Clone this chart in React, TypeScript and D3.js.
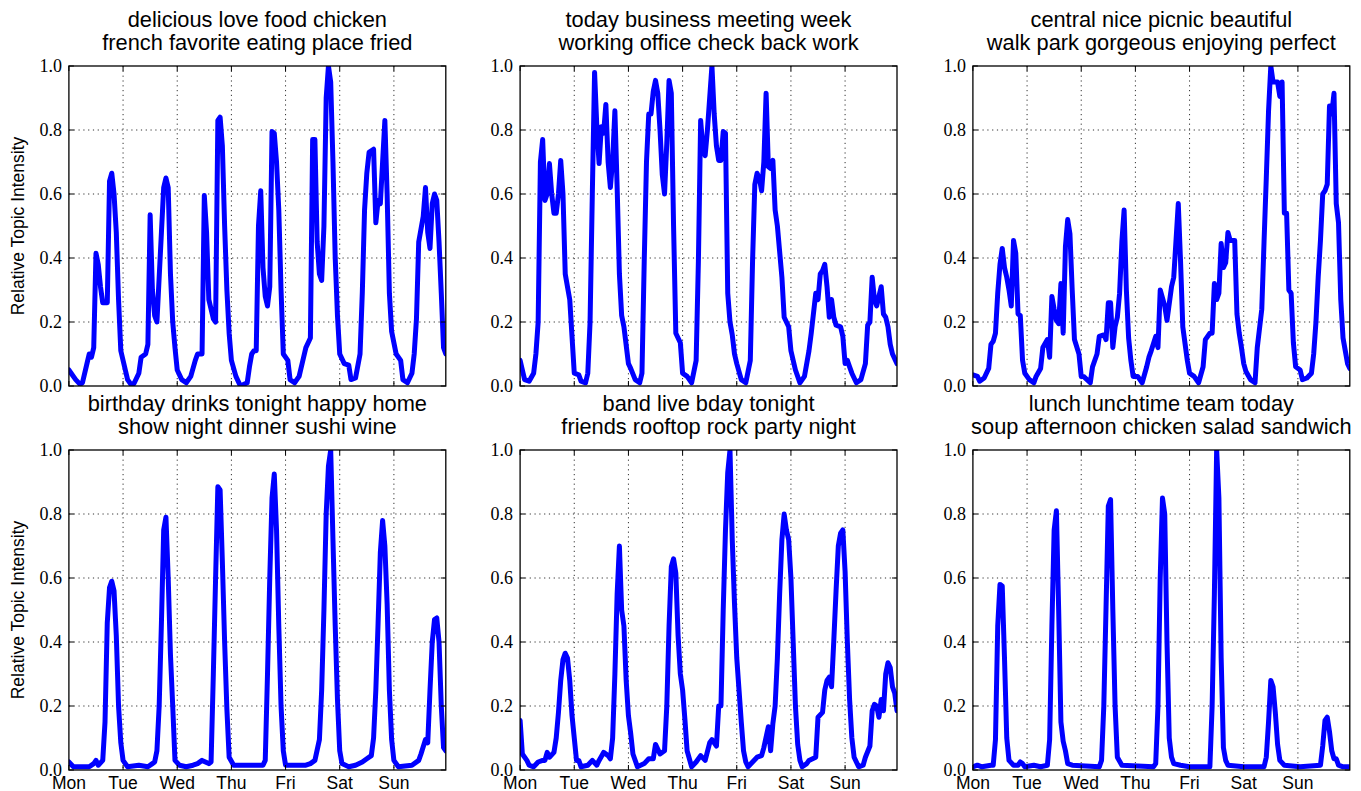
import React from 'react';
import * as d3 from 'd3';

// hour-of-week ticks and labels
const days = ['Mon', 'Tue', 'Wed', 'Thu', 'Fri', 'Sat', 'Sun'];
const dayHours = [0, 24, 48, 72, 96, 120, 144];
const yTicks = [0, 0.2, 0.4, 0.6, 0.8, 1.0];
const hourMax = 167;

// [hour of week, relative topic intensity]
const food = [[0,0.05],[1,0.04],[3,0.02],[5,0.005],[6,0.01],[8,0.07],[9,0.10],[10,0.09],[11,0.12],[12,0.415],[13,0.38],[14,0.31],[15,0.26],[17,0.26],[18,0.64],[19,0.665],[20,0.6],[21,0.48],[22,0.27],[23,0.11],[25,0.05],[26,0.02],[28,0.0],[29,0.01],[31,0.04],[32,0.09],[34,0.10],[35,0.13],[36,0.535],[37,0.3],[38,0.22],[39,0.20],[41,0.48],[42,0.62],[43,0.65],[44,0.62],[45,0.35],[46,0.2],[47,0.12],[48,0.05],[50,0.02],[52,0.01],[54,0.03],[56,0.08],[57,0.10],[59,0.10],[60,0.595],[61,0.48],[62,0.27],[64,0.21],[65,0.20],[66,0.83],[67,0.84],[68,0.75],[69,0.5],[70,0.3],[71,0.165],[72,0.08],[74,0.03],[76,0.0],[79,0.01],[80,0.06],[81,0.1],[82,0.11],[83,0.11],[84,0.5],[85,0.61],[86,0.37],[87,0.28],[88,0.25],[89,0.31],[90,0.795],[91,0.79],[92,0.7],[93,0.55],[94,0.3],[95,0.1],[97,0.08],[98,0.02],[100,0.01],[102,0.03],[104,0.09],[105,0.12],[107,0.15],[108,0.77],[109,0.77],[110,0.45],[111,0.35],[112,0.33],[113,0.5],[114,0.9],[115,1.0],[116,0.95],[117,0.7],[118,0.4],[119,0.22],[120,0.1],[122,0.07],[124,0.065],[125,0.02],[127,0.025],[129,0.1],[130,0.29],[131,0.55],[132,0.665],[133,0.73],[135,0.74],[136,0.51],[137,0.58],[138,0.57],[139,0.7],[140,0.83],[141,0.6],[142,0.29],[143,0.17],[145,0.10],[147,0.08],[148,0.02],[150,0.01],[152,0.04],[153,0.1],[154,0.21],[155,0.45],[157,0.53],[158,0.62],[159,0.48],[160,0.43],[161,0.57],[162,0.6],[163,0.58],[164,0.45],[165,0.29],[166,0.12],[167,0.10]];

const business = [[0,0.08],[1,0.05],[2,0.02],[4,0.015],[6,0.04],[7,0.1],[8,0.2],[9,0.7],[10,0.77],[11,0.58],[12,0.6],[13,0.695],[14,0.6],[15,0.54],[16,0.54],[17,0.6],[18,0.705],[19,0.6],[20,0.35],[22,0.27],[23,0.155],[24,0.04],[26,0.035],[27,0.015],[29,0.01],[30,0.04],[31,0.2],[32,0.6],[33,0.98],[34,0.81],[35,0.695],[36,0.81],[37,0.79],[38,0.88],[39,0.7],[40,0.62],[41,0.705],[42,0.86],[43,0.62],[44,0.35],[45,0.22],[46,0.185],[48,0.07],[49,0.055],[51,0.02],[53,0.01],[54,0.04],[55,0.39],[56,0.7],[57,0.85],[58,0.85],[59,0.92],[60,0.955],[61,0.915],[62,0.8],[63,0.66],[64,0.60],[65,0.76],[66,0.955],[67,0.915],[68,0.5],[69,0.165],[71,0.135],[72,0.04],[74,0.03],[76,0.01],[78,0.08],[79,0.39],[80,0.83],[81,0.74],[82,0.72],[83,0.8],[85,1.0],[86,0.85],[87,0.75],[88,0.705],[89,0.705],[90,0.795],[91,0.79],[92,0.29],[93,0.2],[94,0.16],[95,0.10],[96,0.07],[98,0.02],[100,0.01],[102,0.08],[103,0.39],[104,0.63],[105,0.665],[106,0.65],[107,0.61],[108,0.7],[109,0.915],[110,0.685],[111,0.68],[112,0.705],[113,0.55],[114,0.5],[116,0.34],[117,0.215],[119,0.185],[120,0.11],[122,0.05],[124,0.01],[126,0.03],[128,0.11],[129,0.165],[131,0.29],[132,0.27],[133,0.35],[134,0.36],[135,0.38],[136,0.31],[137,0.215],[138,0.27],[139,0.215],[140,0.19],[142,0.185],[143,0.155],[144,0.07],[145,0.08],[146,0.06],[147,0.04],[149,0.01],[151,0.02],[153,0.07],[154,0.19],[155,0.2],[156,0.34],[157,0.27],[158,0.25],[159,0.28],[160,0.31],[161,0.225],[162,0.215],[163,0.185],[164,0.13],[165,0.10],[167,0.07]];

const picnic = [[0,0.035],[2,0.03],[3,0.015],[5,0.025],[7,0.055],[8,0.13],[9,0.14],[10,0.165],[11,0.29],[12,0.38],[13,0.43],[14,0.37],[15,0.34],[16,0.3],[17,0.25],[18,0.455],[19,0.415],[20,0.225],[21,0.22],[22,0.08],[23,0.04],[25,0.02],[27,0.01],[28,0.03],[30,0.055],[31,0.12],[33,0.145],[34,0.09],[35,0.28],[36,0.24],[37,0.205],[38,0.195],[39,0.32],[40,0.165],[41,0.435],[42,0.52],[43,0.475],[44,0.3],[45,0.145],[47,0.10],[48,0.03],[49,0.03],[52,0.01],[53,0.06],[55,0.10],[56,0.155],[58,0.16],[59,0.145],[60,0.26],[61,0.26],[62,0.12],[63,0.185],[64,0.215],[65,0.29],[66,0.45],[67,0.55],[68,0.3],[69,0.15],[70,0.08],[71,0.03],[73,0.03],[75,0.01],[77,0.06],[78,0.09],[79,0.11],[81,0.155],[82,0.12],[83,0.3],[85,0.25],[86,0.205],[88,0.31],[89,0.34],[91,0.57],[92,0.39],[93,0.185],[95,0.08],[96,0.04],[98,0.03],[100,0.01],[102,0.06],[103,0.145],[105,0.165],[106,0.165],[107,0.32],[108,0.27],[109,0.29],[110,0.445],[111,0.37],[112,0.385],[113,0.48],[114,0.455],[116,0.455],[117,0.225],[118,0.165],[119,0.12],[120,0.07],[121,0.045],[123,0.02],[125,0.01],[126,0.12],[128,0.24],[129,0.45],[130,0.65],[131,0.86],[132,1.0],[133,0.95],[135,0.95],[136,0.905],[137,0.95],[138,0.54],[139,0.54],[140,0.30],[141,0.29],[142,0.135],[143,0.06],[145,0.05],[146,0.02],[148,0.025],[150,0.04],[151,0.1],[152,0.2],[153,0.34],[154,0.455],[155,0.6],[156,0.61],[157,0.63],[158,0.875],[159,0.85],[160,0.915],[161,0.57],[162,0.51],[163,0.27],[164,0.15],[165,0.11],[166,0.07],[167,0.055]];

const birthday = [[0,0.025],[2,0.01],[9,0.01],[11,0.02],[12,0.03],[13,0.015],[15,0.03],[16,0.15],[17,0.46],[18,0.57],[19,0.59],[20,0.56],[21,0.42],[22,0.2],[23,0.085],[24,0.03],[26,0.01],[31,0.015],[35,0.01],[37,0.02],[38,0.025],[39,0.06],[40,0.2],[41,0.46],[42,0.75],[43,0.79],[44,0.6],[45,0.36],[46,0.2],[47,0.03],[49,0.015],[52,0.01],[55,0.015],[57,0.02],[59,0.03],[62,0.02],[63,0.025],[64,0.3],[65,0.6],[66,0.885],[67,0.875],[68,0.65],[69,0.4],[70,0.19],[71,0.04],[73,0.015],[86,0.015],[87,0.03],[88,0.3],[89,0.6],[90,0.85],[91,0.925],[92,0.75],[93,0.45],[94,0.2],[95,0.06],[96,0.015],[105,0.015],[107,0.02],[109,0.03],[111,0.095],[112,0.25],[113,0.5],[114,0.8],[115,0.95],[116,1.0],[117,0.72],[118,0.45],[119,0.22],[120,0.06],[121,0.02],[124,0.01],[127,0.015],[130,0.025],[132,0.035],[134,0.045],[135,0.1],[136,0.25],[137,0.46],[138,0.68],[139,0.78],[140,0.7],[141,0.52],[142,0.25],[143,0.095],[144,0.03],[146,0.01],[152,0.015],[155,0.03],[156,0.05],[158,0.095],[159,0.085],[160,0.25],[161,0.4],[162,0.47],[163,0.475],[164,0.4],[165,0.2],[166,0.07],[167,0.06]];

const band = [[0,0.155],[1,0.05],[3,0.03],[4,0.015],[6,0.01],[8,0.025],[10,0.03],[11,0.03],[12,0.055],[13,0.04],[15,0.055],[16,0.1],[17,0.18],[18,0.28],[19,0.345],[20,0.365],[21,0.35],[22,0.28],[23,0.17],[24,0.1],[25,0.03],[26,0.03],[27,0.01],[30,0.015],[32,0.03],[34,0.015],[35,0.03],[37,0.055],[39,0.045],[40,0.035],[41,0.1],[42,0.3],[43,0.55],[44,0.7],[45,0.5],[46,0.45],[47,0.28],[48,0.17],[49,0.115],[50,0.05],[52,0.01],[55,0.02],[57,0.035],[59,0.035],[60,0.08],[62,0.05],[64,0.06],[65,0.2],[66,0.45],[67,0.635],[68,0.66],[69,0.615],[70,0.42],[71,0.3],[72,0.25],[73,0.16],[74,0.06],[76,0.01],[78,0.025],[80,0.045],[82,0.03],[84,0.085],[85,0.095],[87,0.075],[88,0.2],[89,0.2],[90,0.5],[91,0.75],[92,0.93],[93,1.0],[94,0.72],[95,0.52],[96,0.35],[97,0.25],[98,0.15],[99,0.06],[100,0.025],[101,0.01],[103,0.025],[105,0.04],[107,0.045],[108,0.07],[110,0.135],[111,0.06],[112,0.145],[113,0.2],[114,0.35],[115,0.55],[116,0.72],[117,0.8],[118,0.75],[119,0.72],[120,0.6],[121,0.4],[122,0.2],[123,0.08],[124,0.03],[125,0.01],[127,0.02],[128,0.03],[131,0.04],[132,0.165],[134,0.18],[135,0.25],[136,0.28],[137,0.29],[138,0.26],[139,0.405],[140,0.56],[141,0.7],[142,0.74],[143,0.75],[144,0.62],[145,0.4],[146,0.22],[147,0.1],[148,0.04],[150,0.01],[152,0.015],[153,0.04],[155,0.075],[156,0.185],[157,0.205],[158,0.2],[159,0.165],[160,0.22],[161,0.185],[162,0.3],[163,0.335],[164,0.32],[165,0.26],[166,0.24],[167,0.185]];

const lunch = [[0,0.01],[2,0.015],[4,0.01],[8,0.015],[9,0.015],[10,0.095],[11,0.45],[12,0.58],[13,0.575],[14,0.35],[15,0.1],[16,0.03],[18,0.015],[20,0.015],[21,0.025],[22,0.02],[23,0.01],[27,0.015],[30,0.01],[33,0.015],[34,0.095],[35,0.45],[36,0.75],[37,0.81],[38,0.5],[39,0.15],[40,0.09],[41,0.06],[42,0.02],[44,0.015],[56,0.01],[57,0.03],[58,0.2],[59,0.51],[60,0.825],[61,0.845],[62,0.5],[63,0.2],[64,0.04],[66,0.015],[80,0.01],[81,0.02],[82,0.2],[83,0.6],[84,0.85],[85,0.8],[86,0.4],[87,0.1],[88,0.04],[89,0.02],[92,0.015],[96,0.01],[105,0.01],[106,0.2],[107,0.55],[108,1.0],[109,0.85],[110,0.35],[111,0.07],[112,0.03],[113,0.015],[120,0.01],[129,0.01],[130,0.04],[131,0.15],[132,0.28],[133,0.26],[134,0.18],[135,0.08],[136,0.03],[138,0.015],[145,0.01],[154,0.015],[155,0.075],[156,0.155],[157,0.165],[158,0.12],[159,0.06],[160,0.035],[161,0.035],[162,0.015],[164,0.01],[167,0.01]];

const titles = [
    ['delicious love food chicken', 'french favorite eating place fried'],
    ['today business meeting week', 'working office check back work'],
    ['central nice picnic beautiful', 'walk park gorgeous enjoying perfect'],
    ['birthday drinks tonight happy home', 'show night dinner sushi wine'],
    ['band live bday tonight', 'friends rooftop rock party night'],
    ['lunch lunchtime team today', 'soup afternoon chicken salad sandwich'],
];
const series = [food, business, picnic, birthday, band, lunch];

const lefts = [68.9, 520.1, 972.9];
const tops = [66, 450];
const pw = 376.9;
const ph = 320;
const SANS = '"Liberation Sans", Arial, Helvetica, sans-serif';
const SERIF = '"Liberation Serif", "Times New Roman", serif';

function Panel({ idx }: { idx: number }) {
    const col = idx % 3;
    const row = Math.floor(idx / 3);
    const x = d3.scaleLinear().domain([0, hourMax]).range([0, pw]);
    const y = d3.scaleLinear().domain([0, 1]).range([ph, 0]);
    const line = d3.line<number[]>().x(d => x(d[0])).y(d => y(d[1]));
    const tick = 5;

    return (
        <g transform={`translate(${lefts[col]},${tops[row]})`}>
            <defs>
                <clipPath id={`clip-${idx}`}>
                    <rect x={0} y={0} width={pw} height={ph} />
                </clipPath>
            </defs>
            {/* title */}
            <text x={pw / 2} y={-39} textAnchor="middle" fontFamily={SANS} fontSize={21.8}>{titles[idx][0]}</text>
            <text x={pw / 2} y={-16} textAnchor="middle" fontFamily={SANS} fontSize={21.8}>{titles[idx][1]}</text>
            {/* grid */}
            <g stroke="#000" strokeWidth={1} strokeDasharray="1.2,3.6" opacity={0.8}>
                {yTicks.slice(1, -1).map(t => (
                    <line key={'gy' + t} x1={0} x2={pw} y1={y(t)} y2={y(t)} />
                ))}
                {dayHours.slice(1).map(h => (
                    <line key={'gx' + h} x1={x(h)} x2={x(h)} y1={0} y2={ph} />
                ))}
            </g>
            {/* data */}
            <path
                d={line(series[idx]) || ''}
                fill="none"
                stroke="#0000ff"
                strokeWidth={5}
                strokeLinejoin="round"
                strokeLinecap="round"
                clipPath={`url(#clip-${idx})`}
            />
            {/* frame + ticks */}
            <rect x={0} y={0} width={pw} height={ph} fill="none" stroke="#000" strokeWidth={1.3} />
            <g stroke="#000" strokeWidth={1}>
                {yTicks.map(t => (
                    <g key={'ty' + t}>
                        <line x1={0} x2={tick} y1={y(t)} y2={y(t)} />
                        <line x1={pw - tick} x2={pw} y1={y(t)} y2={y(t)} />
                    </g>
                ))}
                {dayHours.map(h => (
                    <g key={'tx' + h}>
                        <line x1={x(h)} x2={x(h)} y1={ph} y2={ph - tick} />
                        <line x1={x(h)} x2={x(h)} y1={0} y2={tick} />
                    </g>
                ))}
            </g>
            {/* y tick labels */}
            {yTicks.map(t => (
                <text key={'ly' + t} x={-7} y={y(t)} dy="0.35em" textAnchor="end" fontFamily={SERIF} fontSize={18}>
                    {t.toFixed(1)}
                </text>
            ))}
            {/* x tick labels, bottom row only */}
            {row === 1 && days.map((d, i) => (
                <text key={d} x={x(dayHours[i])} y={ph + 19} textAnchor="middle" fontFamily={SANS} fontSize={17.5}>{d}</text>
            ))}
            {col === 0 && (
                <text
                    transform={`translate(${-51},${ph / 2}) rotate(-90)`}
                    textAnchor="middle"
                    dy="0.35em"
                    fontFamily={SANS}
                    fontSize={17.5}
                >Relative Topic Intensity</text>
            )}
        </g>
    );
}

export default function App() {
    return (
        <svg width={1361} height={791} style={{ position: 'absolute', left: 0, top: 0, background: '#fff' }}>
            <rect width={1361} height={791} fill="#fff" />
            {series.map((s, i) => <Panel key={i} idx={i} />)}
        </svg>
    );
}
